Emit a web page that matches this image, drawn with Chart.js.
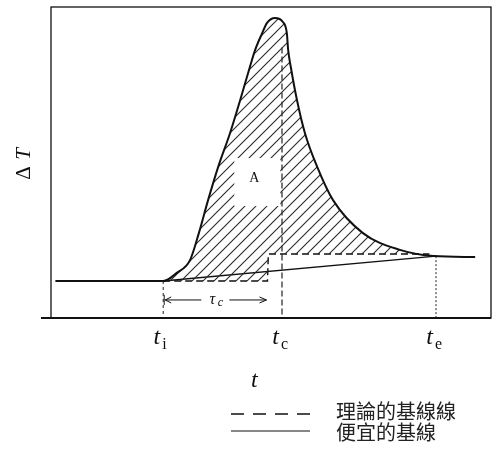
<!DOCTYPE html>
<html>
<head>
<meta charset="utf-8">
<script src="https://cdn.jsdelivr.net/npm/chart.js@4.4.0/dist/chart.umd.min.js"></script>
<style>
  html, body { margin: 0; padding: 0; background: #fff; }
  #wrap { width: 498px; height: 462px; }
</style>
</head>
<body>
<div id="wrap"><canvas id="chart" width="498" height="462"></canvas></div>
<script>
// Thermogram: time t (0-100) against temperature difference ΔT (0-100), arbitrary units
const peakT  = [1, 25.5, 28.6, 31.6, 33.6, 35.7, 38.0, 40.7, 43.0, 45.2, 46.4, 48.0, 49.1, 50.9, 52.7, 53.6, 53.9, 54.5, 55.9, 57.7, 60.5, 64.1, 70.9, 79.3, 87.0, 96.4];
const peakDT = [11.9, 11.9, 14.5, 18.6, 27.3, 37.9, 48.6, 59.5, 70.1, 80.7, 86.2, 91.6, 94.9, 96.5, 95.2, 91.6, 86.2, 80.7, 70.1, 59.5, 48.6, 37.9, 27.3, 21.9, 19.9, 19.6];

// theoretical baseline (step at the cut-off time)
const theoryT  = [25.5, 49.2, 49.4, 86];
const theoryDT = [11.9, 11.9, 20.6, 20.6];

// convenient baseline: straight line from t_i to t_e
const convT  = [25.5, 87.5];
const convDT = [11.9, 19.9];

// characteristic times
const tI = 25.5, tC = 52.5, tE = 87.5;
const tickLabels = [['t', 'i'], ['t', 'c'], ['t', 'e']];
const tickTimes = [tI, tC, tE];

const legendLabels = ['理論的基線線', '便宜的基線'];

const pts = (xs, ys) => xs.map((x, i) => ({ x: x, y: ys[i] }));

const canvas = document.getElementById('chart');

function makeHatch() {
    const c = document.createElement('canvas');
    c.width = 11; c.height = 11;
    const g = c.getContext('2d');
    g.strokeStyle = '#2a2a2a';
    g.lineWidth = 1.1;
    g.beginPath();
    g.moveTo(-1, 12); g.lineTo(12, -1);
    g.moveTo(-1, 1); g.lineTo(1, -1);
    g.moveTo(10, 12); g.lineTo(12, 10);
    g.stroke();
    return canvas.getContext('2d').createPattern(c, 'repeat');
}

// frame, time labels, τc arrow, label A and the legend
const decor = {
    id: 'decor',
    afterDatasetsDraw(chart) {
        const { ctx, chartArea: a, scales: { x, y } } = chart;
        ctx.save();

        // clear box behind the area label
        const ax = x.getPixelForValue(46.2), ay = y.getPixelForValue(45);
        ctx.fillStyle = '#fff';
        ctx.fillRect(ax - 20, ay - 20, 46, 48);
        ctx.fillStyle = '#111';
        ctx.font = '14px "Liberation Serif", serif';
        ctx.textAlign = 'center';
        ctx.textBaseline = 'middle';
        ctx.fillText('A', ax, ay);

        // frame
        ctx.strokeStyle = '#111';
        ctx.lineWidth = 1.3;
        ctx.strokeRect(a.left, a.top, a.right - a.left, a.bottom - a.top);
        ctx.lineWidth = 1.8;
        ctx.beginPath();
        ctx.moveTo(a.left - 10, a.bottom);
        ctx.lineTo(a.right, a.bottom);
        ctx.stroke();

        // time labels under the axis
        ctx.textBaseline = 'alphabetic';
        tickTimes.forEach((t, i) => {
            const px = x.getPixelForValue(t) - 3;
            ctx.textAlign = 'right';
            ctx.font = 'italic 24px "Liberation Serif", serif';
            ctx.fillText(tickLabels[i][0], px, a.bottom + 26);
            ctx.textAlign = 'left';
            ctx.font = '16px "Liberation Serif", serif';
            ctx.fillText(tickLabels[i][1], px + 2, a.bottom + 31);
        });

        // axis titles
        ctx.textAlign = 'center';
        ctx.font = 'italic 24px "Liberation Serif", serif';
        ctx.fillText('t', x.getPixelForValue(46.2), a.bottom + 69);

        ctx.save();
        ctx.translate(24, 163);
        ctx.rotate(-Math.PI / 2);
        ctx.textAlign = 'center';
        ctx.textBaseline = 'middle';
        ctx.font = '21px "Liberation Serif", serif';
        ctx.fillText('Δ', -10, 0);
        ctx.font = 'italic 21px "Liberation Serif", serif';
        ctx.fillText('T', 9, 0);
        ctx.restore();

        // τc arrow between t_i and the step
        const x0 = x.getPixelForValue(tI), x1 = x.getPixelForValue(theoryT[1]);
        const yr = y.getPixelForValue(5.8);
        const mid = (x0 + x1) / 2;
        ctx.lineWidth = 1;
        ctx.beginPath();
        ctx.moveTo(x0 + 1, yr - 5); ctx.lineTo(x0 + 1, yr + 5);
        ctx.moveTo(x0 + 2, yr); ctx.lineTo(mid - 14, yr);
        ctx.moveTo(mid + 14, yr); ctx.lineTo(x1 - 1, yr);
        ctx.moveTo(x0 + 8, yr - 3); ctx.lineTo(x0 + 2, yr); ctx.lineTo(x0 + 8, yr + 3);
        ctx.moveTo(x1 - 8, yr - 3); ctx.lineTo(x1 - 1, yr); ctx.lineTo(x1 - 8, yr + 3);
        ctx.stroke();
        ctx.textAlign = 'center';
        ctx.textBaseline = 'alphabetic';
        ctx.font = 'italic 16px "Liberation Serif", serif';
        ctx.fillText('τ', mid - 3, yr + 4);
        ctx.font = 'italic 12px "Liberation Serif", serif';
        ctx.fillText('c', mid + 5, yr + 6);

        // legend
        const lx0 = 231, lx1 = 310, tx = 336;
        const rows = [414, 431];
        ctx.lineWidth = 1.4;
        ctx.setLineDash([13, 9]);
        ctx.beginPath(); ctx.moveTo(lx0, rows[0]); ctx.lineTo(lx1, rows[0]); ctx.stroke();
        ctx.setLineDash([]);
        ctx.lineWidth = 1.1;
        ctx.beginPath(); ctx.moveTo(lx0, rows[1]); ctx.lineTo(lx1, rows[1]); ctx.stroke();
        ctx.textAlign = 'left';
        ctx.textBaseline = 'middle';
        ctx.font = '20px "Noto Sans CJK TC", sans-serif';
        ctx.fillStyle = '#222';
        ctx.fillText(legendLabels[0], tx, rows[0] - 3);
        ctx.fillText(legendLabels[1], tx, rows[1] + 1);

        ctx.restore();
    }
};

new Chart(canvas, {
    type: 'line',
    data: {
        datasets: [
            {
                // measured peak, hatched down to the theoretical baseline
                data: pts(peakT, peakDT),
                borderColor: '#111',
                borderWidth: 2,
                cubicInterpolationMode: 'monotone',
                tension: 0.4,
                pointRadius: 0,
                fill: { target: 1 },
                backgroundColor: makeHatch()
            },
            {
                data: pts(theoryT, theoryDT),
                borderColor: '#111',
                borderWidth: 1.4,
                borderDash: [7, 4],
                pointRadius: 0,
                fill: false
            },
            {
                data: pts(convT, convDT),
                borderColor: '#111',
                borderWidth: 1.3,
                pointRadius: 0,
                fill: false
            },
            {
                data: pts([tI, tI], [peakDT[1], 0]),
                borderColor: '#222',
                borderWidth: 1,
                borderDash: [3, 3],
                pointRadius: 0,
                fill: false
            },
            {
                data: pts([tC, tC], [87, 0]),
                borderColor: '#222',
                borderWidth: 1.2,
                borderDash: [6, 3],
                pointRadius: 0,
                fill: false
            },
            {
                data: pts([tE, tE], [convDT[1], 0]),
                borderColor: '#222',
                borderWidth: 1,
                borderDash: [2, 2],
                pointRadius: 0,
                fill: false
            }
        ]
    },
    options: {
        responsive: false,
        animation: false,
        layout: { padding: { left: 51, top: 7, right: 7, bottom: 144 } },
        plugins: {
            legend: { display: false },
            tooltip: { enabled: false }
        },
        scales: {
            x: { type: 'linear', min: 0, max: 100, display: false },
            y: { type: 'linear', min: 0, max: 100, display: false }
        }
    },
    plugins: [decor]
});
</script>
</body>
</html>
